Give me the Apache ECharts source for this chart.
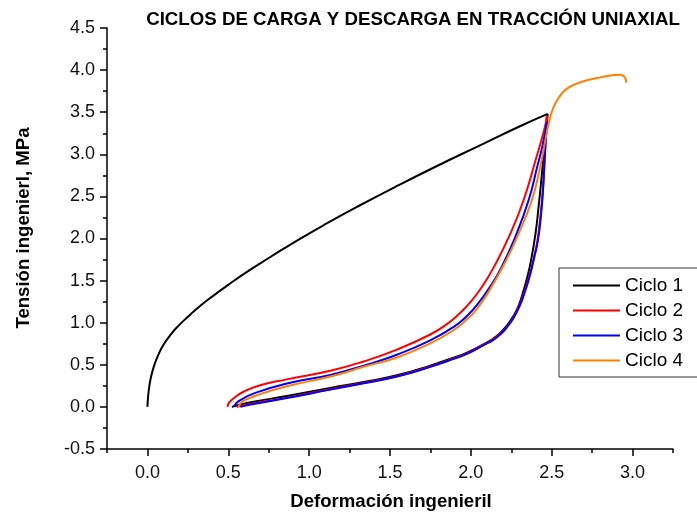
<!DOCTYPE html>
<html>
<head>
<meta charset="utf-8">
<script src="https://cdn.jsdelivr.net/npm/echarts@6/dist/echarts.min.js"></script>
<style>
  html, body { margin: 0; padding: 0; background: #fff; }
  #chart { width: 697px; height: 518px; }
</style>
</head>
<body>
<div id="chart"></div>
<script>
// Tick values of both axes
const xTicks = [0, 0.5, 1.0, 1.5, 2.0, 2.5, 3.0];
const xMinorTicks = [-0.25, 0.25, 0.75, 1.25, 1.75, 2.25, 2.75, 3.25];
const yTicks = [-0.5, 0, 0.5, 1.0, 1.5, 2.0, 2.5, 3.0, 3.5, 4.0, 4.5];

const seriesNames = ['Ciclo 1', 'Ciclo 2', 'Ciclo 3', 'Ciclo 4'];

// [deformación, tensión MPa]
const ciclo1Carga = [[0,0],[0.004,0.12],[0.012,0.25],[0.025,0.38],[0.045,0.51],[0.07,0.63],[0.1,0.74],
  [0.14,0.85],[0.19,0.96],[0.25,1.07],[0.32,1.19],[0.4,1.31],[0.5,1.45],[0.62,1.61],[0.76,1.78],
  [0.92,1.97],[1.1,2.17],[1.3,2.38],[1.55,2.63],[1.8,2.87],[2.05,3.1],[2.3,3.33],[2.475,3.48]];
const ciclo1Descarga = [[2.475,3.48],[2.462,3.22],[2.448,2.94],[2.434,2.66],[2.42,2.40],[2.40,2.06],
  [2.37,1.72],[2.35,1.55],[2.327,1.39],[2.295,1.2],[2.26,1.07],[2.22,0.96],[2.18,0.875],
  [2.13,0.80],[2.08,0.745],[1.976,0.645],[1.894,0.585],[1.749,0.49],[1.543,0.375],[1.337,0.295],
  [1.131,0.225],[0.862,0.13],[0.656,0.06],[0.57,0.025],[0.522,0]];

const ciclo2Carga = [[0.495,0],[0.505,0.05],[0.532,0.1],[0.594,0.18],[0.697,0.258],[0.862,0.327],
  [1.131,0.43],[1.337,0.54],[1.543,0.68],[1.749,0.86],[1.85,0.98],[1.93,1.11],[2.0,1.25],
  [2.07,1.43],[2.142,1.66],[2.245,2.06],[2.327,2.46],[2.40,2.93],[2.455,3.3],[2.47,3.45]];
const ciclo2Descarga = [[2.47,3.45],[2.458,3.0],[2.446,2.6],[2.432,2.3],[2.412,1.98],[2.388,1.76],
  [2.362,1.56],[2.332,1.37],[2.297,1.19],[2.262,1.06],[2.222,0.95],[2.182,0.868],[2.132,0.793],
  [2.08,0.74],[1.976,0.635],[1.894,0.575],[1.749,0.48],[1.543,0.365],[1.337,0.285],[1.131,0.21],
  [0.862,0.11],[0.656,0.04],[0.56,0.005],[0.55,0]];

const ciclo3Carga = [[0.536,0],[0.548,0.04],[0.574,0.08],[0.656,0.158],[0.862,0.278],[1.131,0.38],
  [1.337,0.49],[1.543,0.62],[1.749,0.79],[1.894,0.95],[1.976,1.08],[2.05,1.24],[2.12,1.43],
  [2.19,1.66],[2.275,2.02],[2.358,2.46],[2.41,2.85],[2.445,3.12],[2.47,3.38]];
const ciclo3Descarga = [[2.47,3.38],[2.458,3.0],[2.447,2.6],[2.435,2.3],[2.415,1.98],[2.39,1.76],
  [2.365,1.56],[2.335,1.37],[2.30,1.19],[2.265,1.06],[2.225,0.95],[2.185,0.865],[2.135,0.79],
  [2.08,0.735],[1.976,0.63],[1.894,0.57],[1.749,0.475],[1.543,0.36],[1.337,0.28],[1.131,0.205],
  [0.862,0.105],[0.656,0.035],[0.574,0]];

const ciclo4Carga = [[0.563,0],[0.575,0.04],[0.594,0.072],[0.677,0.139],[0.862,0.246],[1.131,0.36],
  [1.337,0.476],[1.543,0.587],[1.749,0.754],[1.894,0.913],[1.976,1.04],[2.04,1.17],[2.12,1.40],
  [2.213,1.72],[2.296,2.06],[2.378,2.46],[2.43,2.86],[2.462,3.18],[2.485,3.40],[2.51,3.55],
  [2.543,3.67],[2.595,3.78],[2.678,3.855],[2.781,3.905],[2.863,3.935],[2.925,3.945],[2.95,3.92],
  [2.962,3.85]];

const colors = ['#000000', '#ff0000', '#0000ff', '#ff8000'];
const FONT = 'Arial, "Liberation Sans", sans-serif';

function curve(name, color, data) {
  return {
    name: name,
    type: 'line',
    xAxisIndex: 0,
    data: data,
    symbol: 'none',
    smooth: 0.5,
    color: color,
    lineStyle: { color: color, width: 2 },
    emphasis: { disabled: true },
    animation: false
  };
}

const chart = echarts.init(document.getElementById('chart'), null, { renderer: 'canvas' });

const axisLineStyle = { color: '#000', width: 1.5 };

chart.setOption({
  backgroundColor: '#ffffff',
  animation: false,
  grid: { left: 107, right: 24, top: 28, bottom: 69, containLabel: false },
  graphic: [
    {
      type: 'text', x: 413, y: 20,
      style: {
        text: 'CICLOS DE CARGA Y DESCARGA EN TRACCIÓN UNIAXIAL',
        font: 'bold 18.7px ' + FONT, fill: '#000',
        textAlign: 'center', textVerticalAlign: 'middle'
      }
    },
    {
      type: 'text', x: 391, y: 502,
      style: {
        text: 'Deformación ingenieril',
        font: 'bold 18.6px ' + FONT, fill: '#000',
        textAlign: 'center', textVerticalAlign: 'middle'
      }
    },
    {
      type: 'text', x: 24, y: 228, rotation: Math.PI / 2,
      style: {
        text: 'Tensión ingenierl, MPa',
        font: 'bold 18.6px ' + FONT, fill: '#000',
        textAlign: 'center', textVerticalAlign: 'middle'
      }
    }
  ],
  legend: {
    orient: 'vertical',
    left: 559, top: 268,
    data: seriesNames,
    icon: 'rect',
    itemWidth: 47, itemHeight: 2, itemGap: 0,
    padding: [5, 15, 4, 14],
    borderColor: '#333', borderWidth: 1,
    backgroundColor: '#fff',
    selectedMode: false,
    textStyle: { fontSize: 19, fontFamily: FONT, color: '#000', lineHeight: 25 }
  },
  xAxis: [
    {
      type: 'value', min: -0.25, max: 3.25,
      axisLine: { show: true, onZero: false, lineStyle: axisLineStyle },
      axisTick: { show: true, inside: false, length: 7, lineStyle: axisLineStyle, customValues: xTicks },
      axisLabel: {
        show: true, customValues: xTicks, margin: 15,
        fontSize: 18, fontFamily: FONT, color: '#111',
        formatter: v => v.toFixed(1)
      },
      splitLine: { show: false }
    },
    {
      type: 'value', min: -0.25, max: 3.25, position: 'bottom', offset: 0,
      axisLine: { show: false, onZero: false },
      axisTick: { show: true, inside: false, length: 4, lineStyle: axisLineStyle, customValues: xMinorTicks },
      axisLabel: { show: false },
      splitLine: { show: false }
    }
  ],
  yAxis: {
    type: 'value', min: -0.5, max: 4.5, interval: 0.5,
    axisLine: { show: true, onZero: false, lineStyle: axisLineStyle },
    axisTick: { show: true, inside: false, length: 7, lineStyle: axisLineStyle },
    minorTick: { show: true, splitNumber: 2, length: 4, lineStyle: axisLineStyle },
    axisLabel: {
      show: true, margin: 12,
      fontSize: 18, fontFamily: FONT, color: '#111',
      customValues: yTicks,
      formatter: v => v.toFixed(1)
    },
    splitLine: { show: false },
    minorSplitLine: { show: false }
  },
  series: [
    curve('Ciclo 1', colors[0], ciclo1Carga),
    curve('Ciclo 1', colors[0], ciclo1Descarga),
    curve('Ciclo 2', colors[1], ciclo2Carga),
    curve('Ciclo 2', colors[1], ciclo2Descarga),
    curve('Ciclo 3', colors[2], ciclo3Carga),
    curve('Ciclo 3', colors[2], ciclo3Descarga),
    curve('Ciclo 4', colors[3], ciclo4Carga)
  ]
});
</script>
</body>
</html>
